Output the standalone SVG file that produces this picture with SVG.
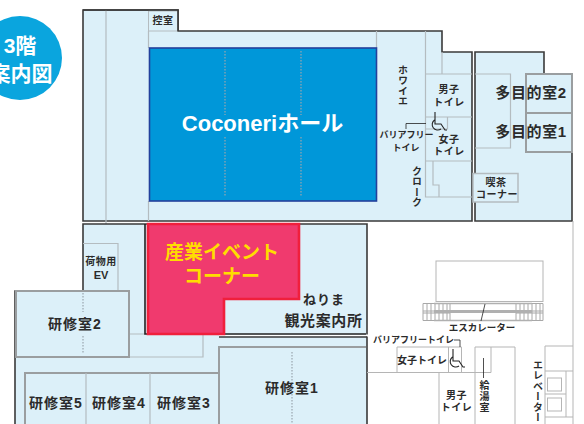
<svg xmlns="http://www.w3.org/2000/svg" width="584" height="424" viewBox="0 0 584 424">
<style>
text{font-family:"Liberation Sans","Noto Sans CJK JP",sans-serif;font-weight:700;text-anchor:middle;fill:#2b2b2b}
.s9{font-size:9px}.s10{font-size:10px;letter-spacing:.5px}.s14{font-size:14px;letter-spacing:1px}.s15{font-size:15px;letter-spacing:.6px}
.v{writing-mode:vertical-rl;text-anchor:start;font-size:10px;letter-spacing:.5px}
.w{fill:#fff}.y{fill:#ffdd00;font-size:19px}
.dk{fill:none;stroke:#3a3a3a;stroke-width:1.6}
.gr{fill:none;stroke:#b4bcc0;stroke-width:1.2}
.th{fill:none;stroke:#9a9ea0;stroke-width:2}
.ln{fill:none;stroke:#b5b5b5;stroke-width:1}
.dt{fill:none;stroke:#9aa6ad;stroke-width:1.2;stroke-dasharray:1.5 1.5}
.wc{fill:none;stroke:#222;stroke-width:1.1}
.f{fill:#dcf0f9}
</style>
<g id="badge"><circle cx="20" cy="58" r="42" fill="#0aa5de"/><text x="20" y="53" font-size="21" class="w">3階</text><text x="21" y="81" font-size="21" class="w">案内図</text></g>
<g id="upper-floor">
<path class="f dk" d="M83 10H178V31H442V52H472V221H83Z"/>
<path class="f dk" d="M475 52H544V74H572V221H475Z"/>
<path class="gr" d="M106 10V243M148.500 31V48M148.500 201V221M376.500 31V48M425.500 31V197H472M442 52V74M425.500 74H472M425.500 117H472M425.500 161H472M433 161V185H439V197M447.500 117V129H425.500"/>
<path class="f" style="stroke:#b4bcc0" d="M148.500 11H177.500V31H148.500Z"/>
<path class="dk" d="M83 10H178V31"/>
<text x="163" y="24" class="s10">控室</text>
</g>
<g id="hall"><rect x="149.500" y="48" width="227" height="153" fill="#0097d9" stroke="#23409c" stroke-width="1.6"/>
<path class="dt" d="M225 51V115M225 137V197M301 51V115M301 137V197"/>
<text x="262.500" y="131" font-size="22" class="w">Coconeriホール</text></g>
<g id="foyer"><text x="402" y="65" class="v">ホワイエ</text></g>
<g id="toilet-m"><text x="449" y="93" class="s10">男子</text><text x="449" y="106" class="s10">トイレ</text></g>
<g id="toilet-bf"><text x="406.500" y="138" class="s9">バリアフリー</text><text x="406" y="151" class="s9">トイレ</text>
<path class="wc" d="M435 112V124H441L445 130H447M434.500 120A5 5 0 1 0 441 129"/></g>
<g id="toilet-f"><text x="449" y="143" class="s10">女子</text><text x="449" y="155" class="s10">トイレ</text></g>
<g id="cloak"><text x="416" y="166" class="v">クローク</text></g>
<g id="room-tamoku-left"><path class="gr" d="M475 74H510.500V148H475"/></g>
<g id="room-2-1"><rect x="526" y="74" width="46" height="78" class="th"/><path class="th" d="M526 113H572"/>
<text x="531" y="98" class="s15">多目的室2</text><text x="531" y="137" class="s15">多目的室1</text></g>
<g id="cafe"><rect x="473" y="173.500" width="45" height="28.500" class="f" style="stroke:#b4bcc0;stroke-width:1.500"/><text x="496" y="186" class="s10">喫茶</text><text x="497" y="198" class="s10">コーナー</text></g>
<g id="lower-floor">
<path class="f" d="M83 224H367V424H15V291H83Z"/>
<path class="dk" d="M367 424V224H83V291H15V424"/>
<path d="M219 335.500H368" stroke="#fff" stroke-width="2" fill="none"/>
<path class="dk" d="M219 337H367"/>
<path class="gr" d="M129 334H145M129 357H203V334"/>
</g>
<g id="ev"><path class="gr" d="M83 243.500H118V291"/><text x="101" y="265" class="s10">荷物用</text><text x="101" y="279" font-size="11">EV</text></g>
<g id="room2"><rect x="16" y="291" width="113" height="66" class="f th"/><path class="dt" d="M83 293V312M83 336V353"/><text x="75" y="329" class="s14">研修室2</text></g>
<g id="rooms345"><path class="f th" d="M25 424V373H219V424"/><path class="gr" d="M86 373V424M150 373V424"/>
<text x="56" y="408" class="s14">研修室5</text><text x="119" y="408" class="s14">研修室4</text><text x="184" y="408" class="s14">研修室3</text></g>
<g id="room1"><path class="th" d="M219 424V347H366"/><path class="dt" d="M292 352V424"/><text x="292" y="393" class="s14">研修室1</text></g>
<g id="event"><path class="dk" style="stroke:#222" d="M145 224V334H366"/>
<path d="M148 224H299V299H224V334H148Z" fill="#f03a6e" stroke="#f01f3c" stroke-width="2.600"/>
<text x="222" y="259" class="y">産業イベント</text><text x="222" y="283" class="y">コーナー</text></g>
<g id="tourism"><text x="324" y="304" class="s14" style="font-size:13px">ねりま</text><text x="323.500" y="326" class="s15">観光案内所</text></g>
<g id="right-lines">
<path class="ln" d="M573 221V424M367 372.500H491"/>
<rect x="436" y="261" width="107" height="40.500" class="ln"/>
<path class="ln" style="stroke:#a8a8a8" d="M423 303.500H543V320.500H423ZM423 311H450M516 311H543M423 313H450M516 313H543M427 303V321M431 303V321M435 303V321M439 303V321M443 303V321M447 303V321M450 303V321M516 303V321M520 303V321M524 303V321M528 303V321M532 303V321M536 303V321M540 303V321"/>
<path d="M434 303.500H532M434 320.500H532" stroke="#b0b0b0" stroke-width="1.500" fill="none"/>
<path d="M434 310H532V313H434Z" fill="#b0b0b0"/>
<text x="482" y="331" class="s10" style="letter-spacing:0;font-size:9.500px">エスカレーター</text>
</g>
<g id="wc-lower"><path class="ln" d="M397 372V347H461.500V372M448.500 347V372"/><text x="413.500" y="343" class="s9">バリアフリートイレ</text><text x="422" y="364" class="s10" style="letter-spacing:0">女子トイレ</text>
<path class="wc" d="M453 349V361H459L463 367H465M452.500 357A5 5 0 1 0 459 366"/></g>
<g id="men-lower"><path class="ln" d="M439 372.500V424"/><text x="456.500" y="399" class="s10">男子</text><text x="456.500" y="411" class="s10">トイレ</text></g>
<g id="kyuto"><path class="ln" d="M475 424V347H515V424M491 347V372.500"/><text x="483.500" y="380" class="v" style="letter-spacing:1px">給湯室</text></g>
<g id="elevator"><path class="ln" d="M545 424V346H573M545 371H573M566 371V417M545 394H566M545 417H573"/><rect x="547.500" y="378" width="14" height="13" class="ln"/><rect x="547.500" y="398" width="14" height="13" class="ln"/><text x="537" y="360" class="v">エレベーター</text></g>
<g id="connectors">
<path class="wc" style="stroke-width:.8" d="M406 129V123.500H426M454 340H460V347M483.500 358V378M485 304L481 321"/>
</g>
</svg>
